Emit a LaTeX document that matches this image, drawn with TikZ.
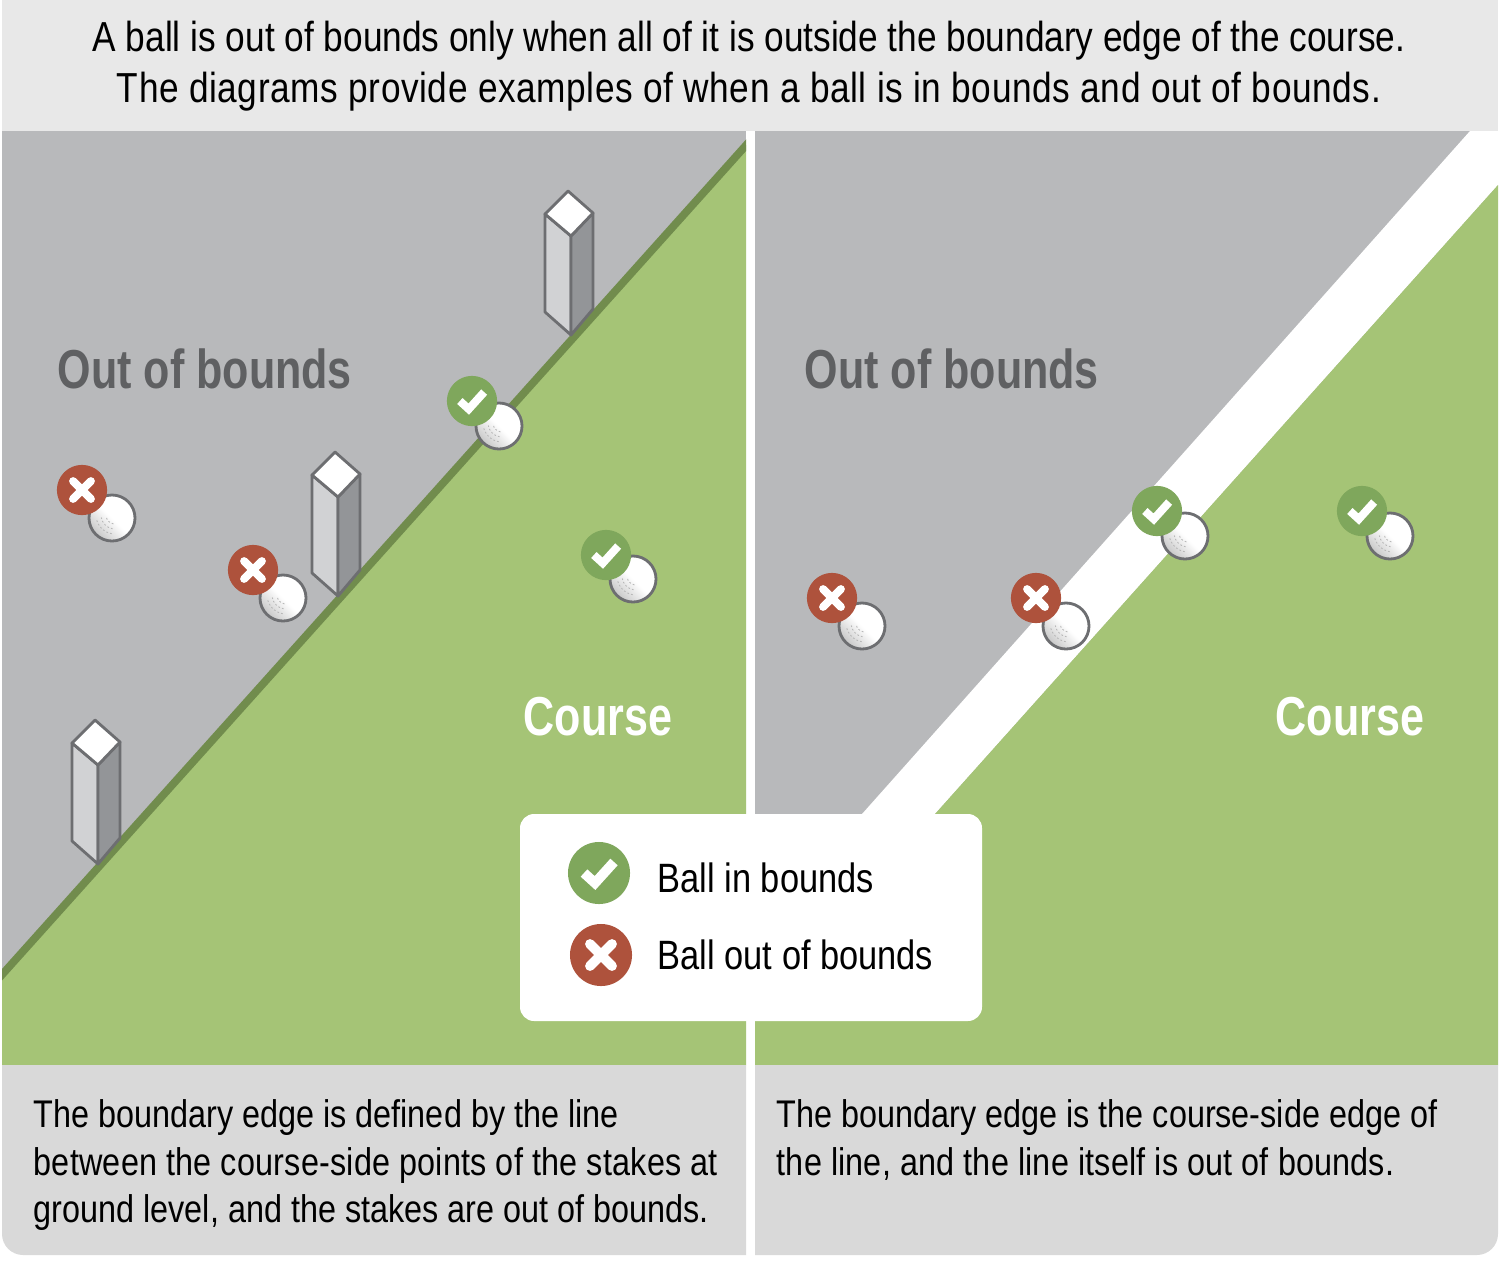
\documentclass[tikz,border=0pt]{standalone}
\usepackage{fontspec}
\setmainfont[FakeStretch=0.84,BoldFeatures={FakeStretch=0.785}]{Liberation Sans}
\definecolor{headgray}{HTML}{E8E8E8}
\definecolor{notegray}{HTML}{D9D9D9}
\definecolor{outgray}{HTML}{B8B9BB}
\definecolor{labelgray}{HTML}{5F6062}
\definecolor{edgegray}{HTML}{6D6E71}
\definecolor{facegray}{HTML}{D1D2D4}
\definecolor{sidegray}{HTML}{939598}
\definecolor{coursegreen}{HTML}{A5C476}
\definecolor{edgegreen}{HTML}{718C4D}
\definecolor{okgreen}{HTML}{7FA75C}
\definecolor{badred}{HTML}{AE523C}
\newcommand{\widerline}[2]{{\addfontfeatures{LetterSpace=#1}#2}}
\newcommand{\stakepost}[1]{%
  \begin{scope}[shift={(#1)},stakeline]
    \draw[fill=facegray] (-23,23) -- (3,45) -- (3,144) -- (-23,121) -- cycle;
    \draw[fill=sidegray] (3,45) -- (25,22) -- (25,118) -- (3,144) -- cycle;
    \draw[fill=white] (0,0) -- (25,22) -- (3,45) -- (-23,23) -- cycle;
  \end{scope}
}
\newcommand{\golfball}[2]{%
  \node[ballnode] (#2) at (#1) {};
  \foreach \r in {9,14,19}
    \draw[dimple] ([shift={(3,-3)}]#2.center) ++(100:\r) arc[start angle=100,end angle=170,radius=\r];
}
\newcommand{\okbadge}[3]{%
  \node[okdot,minimum size=#3*6.2mm] (#2) at (#1) {};
  \begin{scope}[shift={(#2.center)},scale=#3]
    \draw[tickline,line width=#3*2.8pt] (-15,0) -- (-4,10) -- (15,-11);
  \end{scope}
}
\newcommand{\badbadge}[3]{%
  \node[baddot,minimum size=#3*6.2mm] (#2) at (#1) {};
  \begin{scope}[shift={(#2.center)},scale=#3]
    \draw[crossline,line width=#3*2.8pt] (-11,-11) -- (11,11) (-11,11) -- (11,-11);
  \end{scope}
}
\tikzset{
  stakeline/.style={draw=edgegray,line width=0.8pt,line join=round},
  ballnode/.style={circle,minimum size=4.6mm,inner sep=0pt,draw=edgegray,line width=0.8pt,
    top color=white,bottom color=black!22,middle color=white,shading angle=-45},
  dimple/.style={black!28,line width=0.25pt,dash pattern=on 0.5pt off 0.6pt},
  okdot/.style={circle,fill=okgreen,inner sep=0pt},
  baddot/.style={circle,fill=badred,inner sep=0pt},
  tickline/.style={white,line join=miter},
  crossline/.style={white,line cap=round},
  headtext/.style={font=\fontsize{11.93}{14.4}\selectfont,align=center,inner sep=0pt,black},
  notetext/.style={font=\fontsize{10.96}{13.5}\selectfont,align=left,inner sep=0pt,anchor=north west,black},
  zonetext/.style={font=\fontsize{15.6}{18}\selectfont\bfseries,inner sep=0pt,anchor=base west},
  legendtext/.style={font=\fontsize{11.65}{14}\selectfont,inner sep=0pt,anchor=base west,black}
}
\begin{document}
\begin{tikzpicture}[x=0.01cm,y=-0.01cm]
  \useasboundingbox[fill=white] (0,0) rectangle (1500,1260);
  % header
  \fill[headgray] (2,0) rectangle (1498,131);
  \node[headtext] (head) at (749,66) {A ball is out of bounds only when all of it is outside the boundary edge of the course.\\
    \widerline{1.4}{The diagrams provide examples of when a ball is in bounds and out of bounds.}};
  % left panel
  \fill[outgray] (2,131) rectangle (746,1065);
  \fill[coursegreen] (2,975) -- (746,145) -- (746,1065) -- (2,1065) -- cycle;
  \begin{scope}
    \clip (2,131) rectangle (746,1065);
    \draw[edgegreen,line width=2.2pt] (-18,997) -- (766,123);
  \end{scope}
  \stakepost{95,720}
  \stakepost{335,452}
  \stakepost{568,191}
  % right panel
  \fill[outgray] (755,131) rectangle (1498,1065);
  \fill[white] (862,814) -- (1470,131) -- (1498,131) -- (1498,185) -- (935,814) -- cycle;
  \fill[coursegreen] (935,814) -- (1498,185) -- (1498,1065) -- (755,1065) -- (755,814) -- cycle;
  % notes
  \fill[notegray] (2,1065) [rounded corners=6pt] -- (2,1255) [sharp corners] -- (746,1255) -- (746,1065) -- cycle;
  \fill[notegray] (755,1065) -- (755,1255) [rounded corners=6pt] -- (1498,1255) [sharp corners] -- (1498,1065) -- cycle;
  \node[notetext] (leftnote) at (33,1099) {The boundary edge is defined by the line\\
    \widerline{0.5}{between the course-side points of the stakes at}\\
    ground level, and the stakes are out of bounds.};
  \node[notetext] (rightnote) at (776,1099) {The boundary edge is the course-side edge of\\
    \widerline{0.4}{the line, and the line itself is out of bounds.}};
  % zone labels
  \node[zonetext,labelgray] (outleft) at (57,388) {Out of bounds};
  \node[zonetext,labelgray] (outright) at (804,388) {Out of bounds};
  \node[zonetext,white] (courseleft) at (523,735) {Course};
  \node[zonetext,white] (courseright) at (1275,735) {Course};
  % balls
  \golfball{112,518}{ballA}
  \golfball{283,598}{ballB}
  \golfball{499,426}{ballC}
  \golfball{633,579}{ballD}
  \golfball{862,626}{ballE}
  \golfball{1066,626}{ballF}
  \golfball{1185,536}{ballG}
  \golfball{1390,536}{ballH}
  \badbadge{82,490}{markA}{0.81}
  \badbadge{253,570}{markB}{0.81}
  \okbadge{472,401}{markC}{0.81}
  \okbadge{606,555}{markD}{0.81}
  \badbadge{832,598}{markE}{0.81}
  \badbadge{1036,598}{markF}{0.81}
  \okbadge{1157,511}{markG}{0.81}
  \okbadge{1362,511}{markH}{0.81}
  % legend
  \fill[white,rounded corners=4pt] (520,814) rectangle (982,1021);
  \okbadge{599,873}{keyok}{1}
  \badbadge{601,955}{keybad}{1}
  \node[legendtext] (keyoktext) at (657,892) {Ball in bounds};
  \node[legendtext] (keybadtext) at (657,969) {Ball out of bounds};
\end{tikzpicture}
\end{document}
